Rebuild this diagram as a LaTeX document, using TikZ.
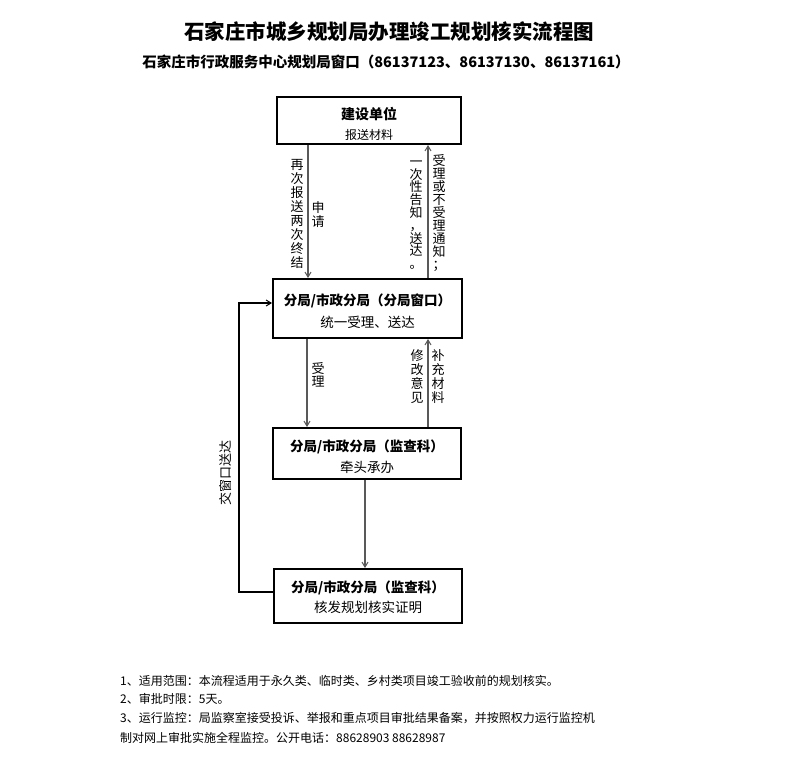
\documentclass[tikz,border=0pt]{standalone}
\usepackage{fontspec}
\setmainfont{Noto Sans CJK SC}
\usetikzlibrary{arrows.meta}
\tikzset{
  box/.style={draw=black, line width=2, minimum width=#1, inner sep=0, fill=white},
  arr/.style={draw=black!65, line width=1.5, -{Straight Barb[length=5,width=6,line width=1]}},
  loopline/.style={draw=black, line width=2, -{Straight Barb[length=5,width=6,line width=1]}},
  hd/.style={font=\fontsize{13.5}{15}\selectfont\bfseries, inner sep=0},
  sub/.style={font=\fontsize{13.5}{15}\selectfont, inner sep=0},
  vlab/.style={align=center, inner sep=0, font=\fontsize{13}{#1}\selectfont},
  note/.style={anchor=west, inner sep=0, font=\fontsize{12}{14}\selectfont},
}
\begin{document}
\begin{tikzpicture}[x=1pt,y=-1pt]
\useasboundingbox (0,0) rectangle (793,766);
% titles
\node[inner sep=0, font=\fontsize{20.5}{22}\selectfont\bfseries] (title) at (389,32) {石家庄市城乡规划局办理竣工规划核实流程图};
\node[inner sep=0, font=\fontsize{14.5}{16}\selectfont\bfseries] (subtitle) at (386,62) {石家庄市行政服务中心规划局窗口（86137123、86137130、86137161）};
% boxes
\node[box=184, minimum height=47] (b1) at (369,120.5) {};
\node[box=189, minimum height=59] (b2) at (367.5,308.5) {};
\node[box=188, minimum height=51] (b3) at (367,453.5) {};
\node[box=188, minimum height=54] (b4) at (368,596) {};
% box texts
\node[hd, font=\fontsize{14}{15}\selectfont\bfseries] (b1a) at (369,114) {建设单位};
\node[sub, font=\fontsize{12}{13}\selectfont] (b1b) at (369,135) {报送材料};
\node[hd] (b2a) at (367.5,301) {分局/市政分局（分局窗口）};
\node[sub] (b2b) at (367.5,322) {统一受理、送达};
\node[hd] (b3a) at (367,447) {分局/市政分局（监查科）};
\node[sub] (b3b) at (367,467) {牵头承办};
\node[hd] (b4a) at (368,588) {分局/市政分局（监查科）};
\node[sub] (b4b) at (368,607) {核发规划核实证明};
% connector columns
\coordinate (xa) at (308,0);
\coordinate (xb) at (428,0);
\coordinate (xc) at (307,0);
\coordinate (xd) at (365,0);
\coordinate (lx) at (239,0);
\draw[arr] (b1.south -| xa) -- (b2.north -| xa);
\draw[arr] (b2.north -| xb) -- (b1.south -| xb);
\draw[arr] (b2.south -| xc) -- (b3.north -| xc);
\draw[arr] (b3.north -| xb) -- (b2.south -| xb);
\draw[arr] (b3.south -| xd) -- (b4.north -| xd);
\coordinate (la) at ([yshift=4]b4.west);
\coordinate (lb) at ([yshift=5.5]b2.west);
\draw[loopline] (la) -- (la -| lx) -- (lx |- lb) -- (lb);
% vertical labels
\node[vlab=14] (l1) at (297,214) {再\\次\\报\\送\\两\\次\\终\\结};
\node[vlab=14] (l2) at (318,215) {申\\请};
\node[vlab=12.8] (l3) at (416,215) {一\\次\\性\\告\\知\\，\\送\\达\\。};
\node[vlab=13] (l4) at (439,213) {受\\理\\或\\不\\受\\理\\通\\知\\；};
\node[vlab=13] (l5) at (318,375) {受\\理};
\node[vlab=14] (l6) at (417,377) {修\\改\\意\\见};
\node[vlab=14] (l7) at (438,377) {补\\充\\材\\料};
\node[inner sep=0, rotate=90, font=\fontsize{13}{14}\selectfont] (l8) at (226,473) {交窗口送达};
% notes
\node[note] (n1) at (120,681) {1、适用范围：本流程适用于永久类、临时类、乡村类项目竣工验收前的规划核实。};
\node[note] (n2) at (120,699) {2、审批时限：5天。};
\node[note] (n3) at (120,718) {3、运行监控：局监察室接受投诉、举报和重点项目审批结果备案，并按照权力运行监控机};
\node[note] (n4) at (120,738) {制对网上审批实施全程监控。公开电话：88628903 88628987};
\end{tikzpicture}
\end{document}
